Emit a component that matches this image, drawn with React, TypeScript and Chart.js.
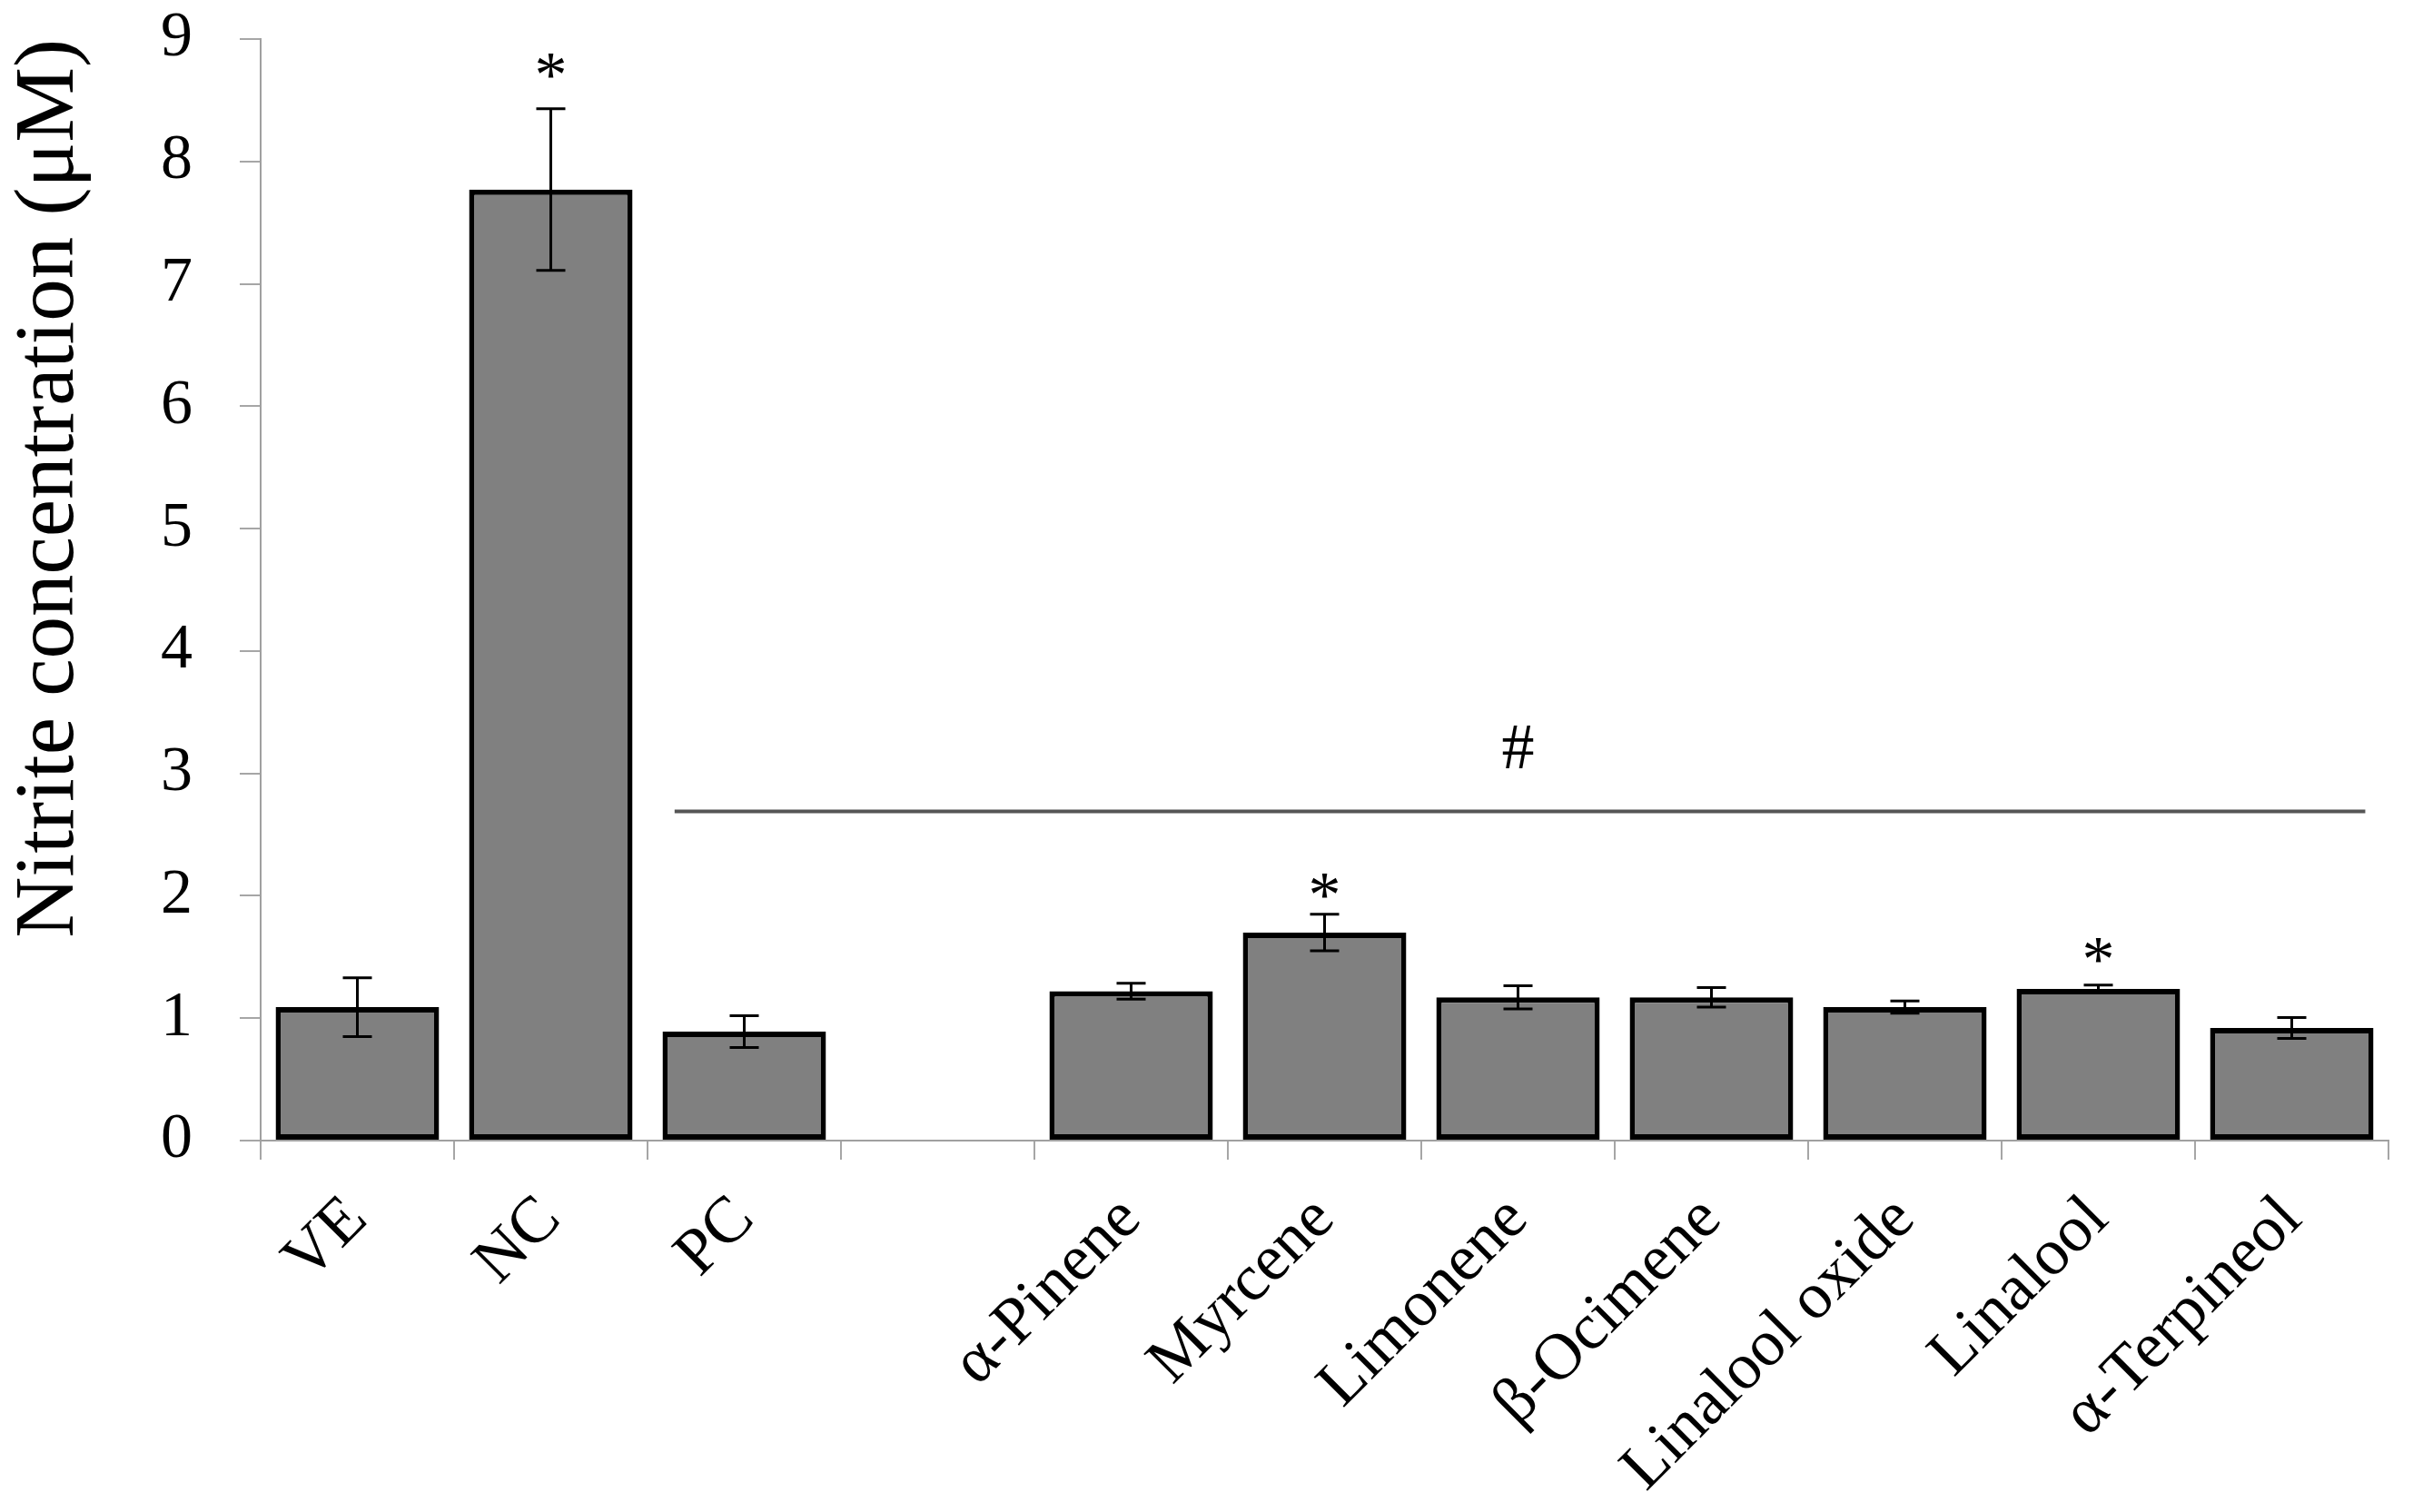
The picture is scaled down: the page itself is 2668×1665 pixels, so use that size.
import { useEffect, useRef } from 'react';
import { Chart, registerables } from 'chart.js';

Chart.register(...registerables);

// Categories (the blank one is the gap between controls and compounds)
const categories = ['VE', 'NC', 'PC', '', 'α-Pinene', 'Myrcene', 'Limonene', 'β-Ocimene', 'Linalool oxide', 'Linalool', 'α-Terpineol'];
const means = [1.09, 7.77, 0.89, null, 1.22, 1.7, 1.17, 1.17, 1.09, 1.24, 0.92];
const errors = [0.24, 0.66, 0.13, null, 0.065, 0.15, 0.095, 0.08, 0.05, 0.03, 0.085];
const yTickValues = [0, 1, 2, 3, 4, 5, 6, 7, 8, 9];

// significance marks
const starIndex = [1, 5, 9];
const starValues = [8.78, 2.08, 1.55];
const hashSpan = [1.64, 10.38];
const hashLineValue = 2.69;
const hashIndex = 6;
const hashValue = 3.18;

const FONT = '"Liberation Serif", "Times New Roman", serif';

const marksPlugin = {
  id: 'marks',
  afterDatasetsDraw(chart: any) {
    const { ctx, scales } = chart;
    const x = scales.x;
    const y = scales.y;
    const meta = chart.getDatasetMeta(0);
    ctx.save();

    // error bars
    ctx.strokeStyle = '#000';
    ctx.lineWidth = 3;
    means.forEach((m, i) => {
      const e = errors[i];
      if (m == null || e == null) return;
      const px = meta.data[i].x;
      const top = y.getPixelForValue(m + e);
      const bot = y.getPixelForValue(m - e);
      ctx.beginPath();
      ctx.moveTo(px, top);
      ctx.lineTo(px, bot);
      ctx.moveTo(px - 16, top);
      ctx.lineTo(px + 16, top);
      ctx.moveTo(px - 16, bot);
      ctx.lineTo(px + 16, bot);
      ctx.stroke();
    });

    // bracket line with #
    const ly = y.getPixelForValue(hashLineValue);
    ctx.strokeStyle = '#555';
    ctx.lineWidth = 4;
    ctx.beginPath();
    ctx.moveTo(x.getPixelForValue(hashSpan[0]), ly);
    ctx.lineTo(x.getPixelForValue(hashSpan[1]), ly);
    ctx.stroke();

    ctx.fillStyle = '#000';
    ctx.font = `72px ${FONT}`;
    ctx.textAlign = 'center';
    ctx.textBaseline = 'middle';
    ctx.fillText('#', x.getPixelForValue(hashIndex), y.getPixelForValue(hashValue));

    // asterisks
    ctx.textBaseline = 'alphabetic';
    starIndex.forEach((idx, k) => {
      ctx.fillText('*', x.getPixelForValue(idx), y.getPixelForValue(starValues[k]) + 33);
    });

    ctx.restore();
  },
};

export default function App() {
  const canvasRef = useRef<HTMLCanvasElement>(null);
  const chartRef = useRef<Chart | null>(null);

  useEffect(() => {
    if (!canvasRef.current) return;
    chartRef.current?.destroy();

    chartRef.current = new Chart(canvasRef.current, {
      type: 'bar',
      data: {
        labels: categories,
        datasets: [
          {
            data: means as any,
            backgroundColor: '#808080',
            borderColor: '#000',
            borderWidth: 6,
            borderSkipped: false,
            barPercentage: 0.845,
            categoryPercentage: 1,
          },
        ],
      },
      options: {
        responsive: false,
        animation: false,
        devicePixelRatio: 1,
        layout: { padding: { top: 43, right: 38, bottom: 0, left: 0 } },
        plugins: {
          legend: { display: false },
          tooltip: { enabled: false },
        },
        scales: {
          x: {
            grid: {
              drawOnChartArea: false,
              offset: true,
              color: '#a6a6a6',
              lineWidth: 2,
              tickLength: 21,
            },
            border: { color: '#a0a0a0', width: 2 },
            ticks: {
              autoSkip: false,
              minRotation: 45,
              maxRotation: 45,
              padding: 24,
              color: '#000',
              font: { family: FONT, size: 72 },
            },
            afterFit: (scale: any) => {
              scale.height = 409;
              scale.paddingLeft = 0;
              scale.paddingRight = 0;
            },
          },
          y: {
            min: 0,
            max: 9,
            afterBuildTicks: (scale: any) => {
              scale.ticks = yTickValues.map(v => ({ value: v }));
            },
            grid: {
              drawOnChartArea: false,
              color: '#a6a6a6',
              lineWidth: 2,
              tickLength: 23,
            },
            border: { color: '#a0a0a0', width: 2 },
            ticks: {
              padding: 52,
              color: '#000',
              font: { family: FONT, size: 70 },
            },
            title: {
              display: true,
              text: 'Nitrite concentration (μM)',
              align: 'end',
              color: '#000',
              padding: 0,
              font: { family: FONT, size: 93 },
            },
            afterFit: (scale: any) => {
              scale.width = 287;
              scale.paddingTop = 0;
              scale.paddingBottom = 0;
            },
          },
        },
      },
      plugins: [marksPlugin],
    });

    return () => {
      chartRef.current?.destroy();
      chartRef.current = null;
    };
  }, []);

  return (
    <div style={{ position: 'fixed', left: 0, top: 0, width: 2668, height: 1665, background: '#fff' }}>
      <canvas ref={canvasRef} width={2668} height={1665} style={{ width: 2668, height: 1665 }} />
    </div>
  );
}
